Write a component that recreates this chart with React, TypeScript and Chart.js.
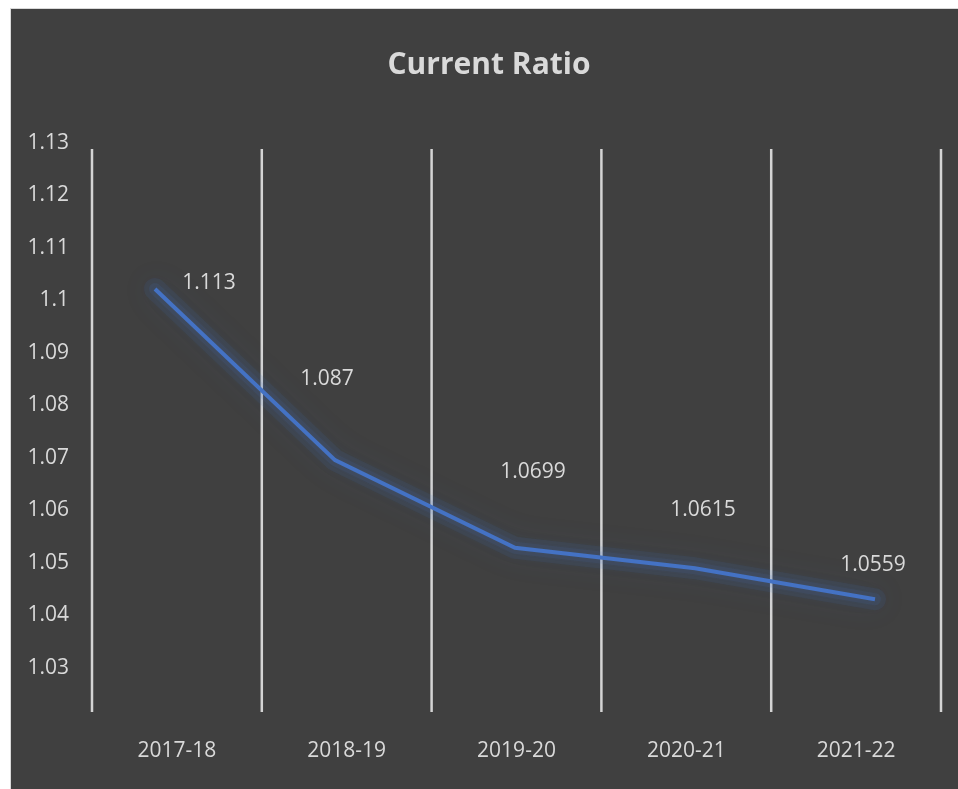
import React, { useEffect, useRef } from "react";
import { Chart, registerables } from "chart.js";

Chart.register(...registerables);

// ---- data ----
const categories = ["2017-18", "2018-19", "2019-20", "2020-21", "2021-22"];
const ratioValues = [1.1022, 1.0696, 1.0529, 1.049, 1.0431];
const dataLabels = ["1.113", "1.087", "1.0699", "1.0615", "1.0559"];
const yTicks = [1.03, 1.04, 1.05, 1.06, 1.07, 1.08, 1.09, 1.1, 1.11, 1.12, 1.13];
const yMin = 1.02;
const yMax = 1.13;

// ---- style ----
const BG = "#404040";
const TEXT = "#d9d9d9";
const LINE = "#4472C4";
const FONT = "'Open Sans', 'Noto Sans', sans-serif";
const labelOffsets: [number, number][] = [
  [54, -6],
  [-8, -81],
  [18, -76],
  [8, -58],
  [-2, -34],
];
const GRID_TOP_INSET = 6;
const GRID_BOTTOM_INSET = 8.5;

const W = 947;
const H = 780;

const gridPlugin = {
  id: "vgrid",
  beforeDatasetsDraw(chart: any) {
    const { ctx, chartArea } = chart;
    const n = categories.length;
    const step = (chartArea.right - chartArea.left) / n;
    ctx.save();
    ctx.strokeStyle = "#d4d4d4";
    ctx.lineWidth = 2.5;
    for (let i = 0; i <= n; i++) {
      const x = chartArea.left + i * step;
      ctx.beginPath();
      ctx.moveTo(x, chartArea.top + GRID_TOP_INSET);
      ctx.lineTo(x, chartArea.bottom - GRID_BOTTOM_INSET);
      ctx.stroke();
    }
    ctx.restore();
  },
};

const glowPlugin = {
  id: "glow",
  beforeDatasetDraw(chart: any) {
    const ctx = chart.ctx;
    const pts = chart.getDatasetMeta(0).data;
    const trace = () => {
      ctx.beginPath();
      pts.forEach((p: any, i: number) => (i ? ctx.lineTo(p.x, p.y) : ctx.moveTo(p.x, p.y)));
      ctx.stroke();
    };
    ctx.save();
    ctx.lineJoin = "round";
    ctx.lineCap = "round";
    ctx.shadowColor = "rgba(68,114,196,0.6)";
    ctx.shadowBlur = 30;
    ctx.strokeStyle = "rgba(68,114,196,0.1)";
    ctx.lineWidth = 22;
    trace();
    ctx.shadowBlur = 14;
    ctx.strokeStyle = "rgba(68,114,196,0.1)";
    ctx.lineWidth = 12;
    trace();
    ctx.restore();
  },
};

const labelPlugin = {
  id: "dlabels",
  afterDatasetsDraw(chart: any) {
    const { ctx } = chart;
    const meta = chart.getDatasetMeta(0);
    ctx.save();
    ctx.font = `21px ${FONT}`;
    ctx.fillStyle = TEXT;
    ctx.textAlign = "center";
    ctx.textBaseline = "middle";
    meta.data.forEach((pt: any, i: number) => {
      const [dx, dy] = labelOffsets[i];
      ctx.fillText(dataLabels[i], pt.x + dx, pt.y + dy);
    });
    ctx.restore();
  },
};

export default function App() {
  const ref = useRef<HTMLCanvasElement | null>(null);

  useEffect(() => {
    if (!ref.current) return;
    const chart = new Chart(ref.current, {
      type: "line",
      data: {
        labels: categories,
        datasets: [
          {
            label: "Current Ratio",
            data: ratioValues.map((v, i) => ({ x: i, y: v })),
            xAxisID: "x2",
            yAxisID: "y",
            borderColor: LINE,
            borderWidth: 4,
            pointRadius: 0,
            tension: 0,
            fill: false,
          },
        ],
      },
      options: {
        responsive: false,
        animation: false,
        layout: { padding: { left: 9, right: 0, top: 0, bottom: 0 } },
        plugins: {
          legend: { display: false },
          tooltip: { enabled: false },
          title: {
            display: true,
            text: "Current Ratio",
            color: TEXT,
            font: { family: FONT, size: 30, weight: "bold" },
            padding: { top: 38, bottom: 60 },
          },
        },
        scales: {
          x: {
            type: "category",
            offset: true,
            grid: { display: false, drawTicks: false },
            border: { display: false },
            ticks: {
              color: TEXT,
              font: { family: FONT, size: 21 },
              padding: 18,
              maxRotation: 0,
            },
            afterFit(scale: any) {
              scale.height = 68.5;
            },
          },
          x2: {
            type: "linear",
            display: false,
            min: -0.35,
            max: 4.3667,
          },
          y: {
            type: "linear",
            min: yMin,
            max: yMax,
            grid: { display: false, drawTicks: false },
            border: { display: false },
            afterBuildTicks(scale: any) {
              scale.ticks = yTicks.map((v) => ({ value: v }));
            },
            ticks: {
              color: TEXT,
              font: { family: FONT, size: 21 },
              padding: 23,
              callback: (v: any) => String(Number(Number(v).toFixed(2))),
            },
            afterFit(scale: any) {
              scale.width = 72;
            },
          },
          yRight: {
            type: "linear",
            position: "right",
            min: yMin,
            max: yMax,
            grid: { display: false, drawTicks: false },
            border: { display: false },
            ticks: { display: false },
            afterFit(scale: any) {
              scale.width = 17;
            },
          },
        },
      },
      plugins: [gridPlugin, glowPlugin, labelPlugin],
    });
    return () => chart.destroy();
  }, []);

  return (
    <div
      style={{
        position: "fixed",
        left: 10,
        top: 8,
        right: 0,
        bottom: 0,
        background: BG,
        borderLeft: "1px solid #d9d9d9",
        borderTop: "1px solid #d9d9d9",
        overflow: "hidden",
      }}
    >
      <canvas ref={ref} width={W} height={H} style={{ display: "block" }} />
    </div>
  );
}
